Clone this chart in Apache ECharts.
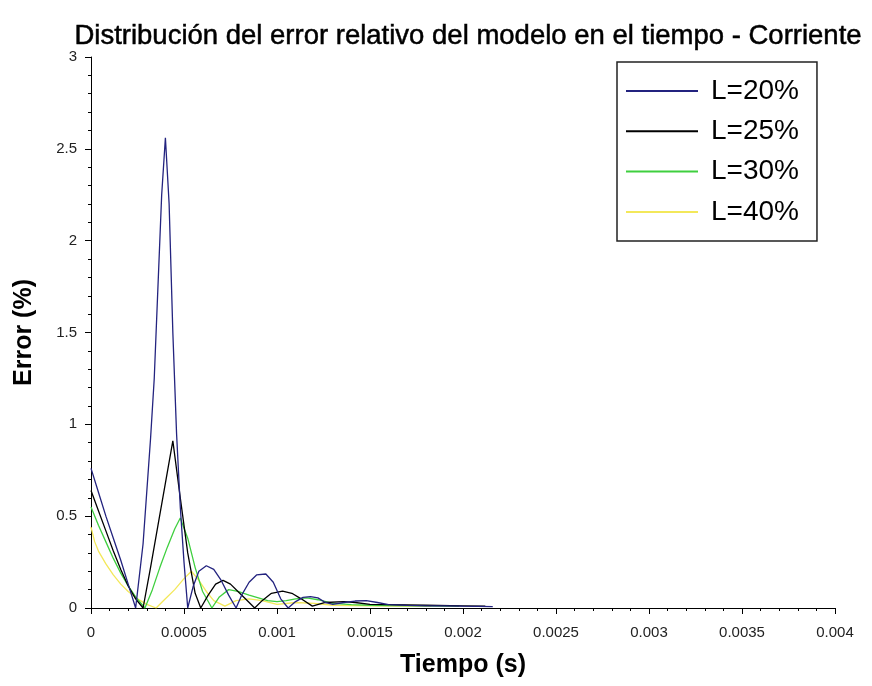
<!DOCTYPE html>
<html>
<head>
<meta charset="utf-8">
<script src="https://cdn.jsdelivr.net/npm/echarts@6/dist/echarts.min.js"></script>
<style>html,body{margin:0;padding:0;background:#fff}#c{width:872px;height:686px}</style>
</head>
<body>
<div id="c"></div>
<script>
var seriesNames = ['L=20%', 'L=25%', 'L=30%', 'L=40%'];
var xTicks = [0, 0.0005, 0.001, 0.0015, 0.002, 0.0025, 0.003, 0.0035, 0.004];
var yTicks = [0, 0.5, 1, 1.5, 2, 2.5, 3];

var t20 = [0,0.00004,0.00008,0.00012,0.00016,0.0002,0.00024,0.00028,0.00032,0.00034,0.00036,0.00038,0.0004,0.00042,0.00044,0.00046,0.00048,0.0005,0.00052,0.00055,0.00058,0.00062,0.00066,0.0007,0.00074,0.00078,0.00081,0.00085,0.00089,0.00094,0.00098,0.00102,0.00106,0.0011,0.00114,0.00118,0.00122,0.00126,0.0013,0.00136,0.00142,0.00148,0.00154,0.0016,0.0017,0.0018,0.0019,0.002,0.00216];
var v20 = [0.76,0.63,0.50,0.38,0.26,0.13,0.0,0.35,0.92,1.25,1.75,2.25,2.56,2.2,1.5,0.95,0.55,0.25,0.0,0.12,0.20,0.23,0.21,0.15,0.07,0.0,0.07,0.14,0.18,0.185,0.14,0.05,0.0,0.035,0.058,0.062,0.055,0.03,0.02,0.03,0.038,0.04,0.03,0.018,0.014,0.012,0.012,0.01,0.008];

var t25 = [0,0.00004,0.00008,0.00012,0.00016,0.0002,0.00024,0.00028,0.00032,0.00036,0.0004,0.00044,0.00048,0.00052,0.00056,0.00059,0.00063,0.00067,0.00071,0.00075,0.00079,0.00083,0.00088,0.00092,0.00097,0.00103,0.00108,0.00113,0.00119,0.00126,0.00136,0.00142,0.0015,0.0016,0.0018,0.002,0.00212];
var v25 = [0.64,0.53,0.42,0.31,0.21,0.12,0.05,0.0,0.22,0.45,0.68,0.91,0.6,0.3,0.08,0.0,0.07,0.13,0.15,0.13,0.09,0.05,0.0,0.04,0.08,0.092,0.08,0.05,0.01,0.03,0.035,0.03,0.02,0.018,0.015,0.012,0.01];

var t30 = [0,0.00004,0.00008,0.00012,0.00016,0.0002,0.00024,0.00029,0.00033,0.00037,0.00041,0.00045,0.00048,0.00052,0.00056,0.0006,0.00065,0.00069,0.00074,0.00079,0.00085,0.00095,0.001,0.00105,0.0011,0.00116,0.00122,0.0013,0.0014,0.0015,0.0016,0.0018,0.00198];
var v30 = [0.55,0.45,0.36,0.27,0.19,0.12,0.06,0.0,0.1,0.22,0.33,0.43,0.49,0.38,0.22,0.09,0.0,0.06,0.10,0.09,0.07,0.04,0.035,0.04,0.05,0.055,0.045,0.025,0.018,0.015,0.013,0.012,0.01];

var t40 = [0,0.00002,0.00004,0.00008,0.00012,0.00016,0.0002,0.00025,0.0003,0.00035,0.0004,0.00045,0.0005,0.00054,0.00058,0.00062,0.00066,0.00072,0.00078,0.00085,0.00092,0.001,0.0011,0.0012,0.0013,0.0015,0.0017,0.00183];
var v40 = [0.44,0.36,0.31,0.24,0.18,0.13,0.09,0.05,0.02,0.0,0.05,0.1,0.16,0.2,0.15,0.09,0.04,0.01,0.04,0.05,0.04,0.02,0.03,0.025,0.015,0.012,0.01,0.01];

var colors = ['#23237f', '#000000', '#3fcf3f', '#f3e85a'];

function zip(t, v) { return t.map(function (x, i) { return [x, v[i]]; }); }
var allData = [zip(t20, v20), zip(t25, v25), zip(t30, v30), zip(t40, v40)];

var FONT = '"Liberation Sans", Arial, sans-serif';
var chart = echarts.init(document.getElementById('c'), null, {renderer: 'canvas'});
chart.setOption({
  animation: false,
  backgroundColor: '#ffffff',
  title: {
    text: 'Distribución del error relativo del modelo en el tiempo - Corriente',
    left: 463, textAlign: 'center', top: 17,
    textStyle: {fontFamily: FONT, fontSize: 27.5, fontWeight: 'normal', color: '#000',
      textBorderColor: '#000', textBorderWidth: 0.5}
  },
  legend: {
    orient: 'vertical', left: 617, top: 62,
    padding: [15, 18, 15, 9],
    itemWidth: 72, itemHeight: 2, itemGap: 12.3, icon: 'rect',
    backgroundColor: '#fff', borderColor: '#222', borderWidth: 1.5,
    textStyle: {fontFamily: FONT, fontSize: 28, color: '#000', lineHeight: 28, padding: [0, 0, 0, 8]},
    data: seriesNames
  },
  grid: {left: 91, right: 37, top: 57, bottom: 78},
  xAxis: {
    type: 'value', min: 0, max: 0.004, interval: 0.0005,
    name: 'Tiempo (s)', nameLocation: 'middle', nameGap: 45,
    nameTextStyle: {fontFamily: FONT, fontSize: 25, fontWeight: 'bold', color: '#000'},
    axisLine: {lineStyle: {color: '#000', width: 1}},
    axisTick: {show: true, length: 6, lineStyle: {color: '#000'}},
    minorTick: {show: true, splitNumber: 5, length: 3, lineStyle: {color: '#000'}},
    splitLine: {show: false},
    axisLabel: {fontFamily: FONT, fontSize: 15, color: '#222', margin: 17,
      formatter: function (v) { return xTicks.indexOf(v) >= 0 ? String(v) : ''; }}
  },
  yAxis: {
    type: 'value', min: 0, max: 3, interval: 0.5,
    name: 'Error (%)', nameLocation: 'middle', nameGap: 54,
    nameTextStyle: {fontFamily: FONT, fontSize: 25, fontWeight: 'bold', color: '#000'},
    axisLine: {show: true, lineStyle: {color: '#000', width: 1}},
    axisTick: {show: true, length: 6, lineStyle: {color: '#000'}},
    minorTick: {show: true, splitNumber: 5, length: 3, lineStyle: {color: '#000'}},
    splitLine: {show: false},
    axisLabel: {fontFamily: FONT, fontSize: 15, color: '#222', margin: 14,
      formatter: function (v) { return yTicks.indexOf(v) >= 0 ? String(v) : ''; }}
  },
  series: seriesNames.map(function (n, i) {
    return {
      name: n, type: 'line', data: allData[i], symbol: 'none', smooth: false,
      color: colors[i],
      lineStyle: {color: colors[i], width: 1.3},
      z: 10 - i
    };
  })
});
</script>
</body>
</html>
